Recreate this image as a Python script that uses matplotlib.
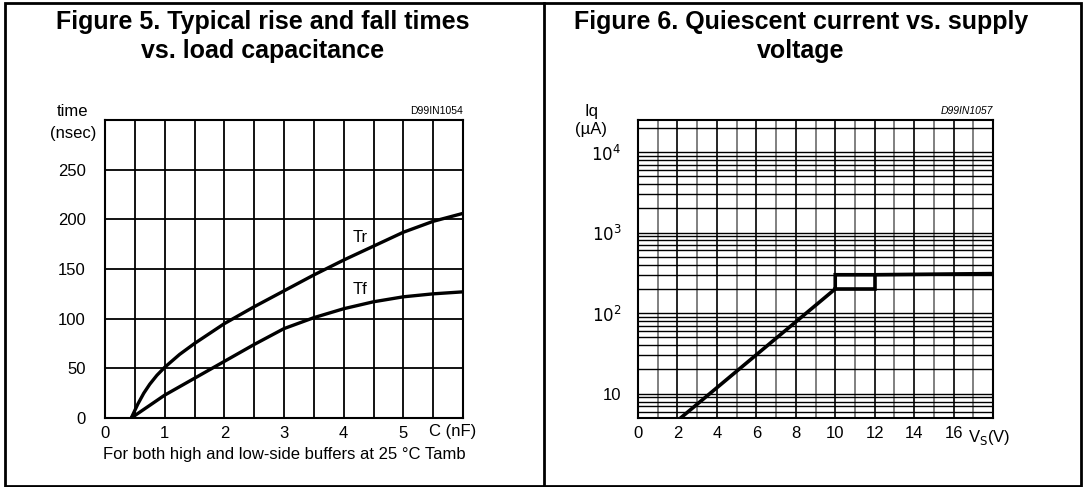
import numpy as np
import matplotlib
matplotlib.use('Agg')
import matplotlib.pyplot as plt
from matplotlib.ticker import FixedLocator, NullFormatter

plt.rcParams['font.family'] = ['Liberation Sans', 'DejaVu Sans']

# ── Data: Figure 5 (rise / fall time vs load capacitance) ─────────────────────
cap_nf  = [0.44, 0.55, 0.65, 0.75, 0.87, 1.0, 1.25, 1.5, 2.0, 2.5, 3.0, 3.5,
           4.0, 4.5, 5.0, 5.5, 6.0]
tr_ns   = [0, 14, 25, 34, 43, 51, 64, 75, 95, 112, 128, 144, 159, 173, 187,
           198, 206]
tf_cap  = [0.44, 1.0, 1.5, 2.0, 2.5, 3.0, 3.5, 4.0, 4.5, 5.0, 5.5, 6.0]
tf_ns   = [0, 23, 40, 57, 74, 90, 101, 110, 117, 122, 125, 127]

# ── Data: Figure 6 (quiescent current vs supply voltage) ──────────────────────
vs_main = [2.16, 10.0, 10.0, 12.0, 18.0]
iq_main = [5, 200, 300, 300, 310]
vs_box  = [10.0, 12.0, 12.0]
iq_box  = [200, 200, 300]

BLACK = '#000000'
GRAY  = '#808080'

fig = plt.figure(figsize=(10.83, 4.87), dpi=100)

# outer frame and divider
fig.add_artist(plt.Rectangle((5 / 1083, 1 - 486 / 487), 1076 / 1083, 483 / 487,
                             transform=fig.transFigure, fill=False, lw=2, ec=BLACK))
fig.add_artist(plt.Line2D([544 / 1083, 544 / 1083], [1 - 486 / 487, 1 - 3 / 487],
                          transform=fig.transFigure, lw=2, color=BLACK))

# titles
fig.text(263 / 1083, 1 - 29 / 487, 'Figure 5. Typical rise and fall times',
         ha='center', va='baseline', fontsize=18, fontweight='bold')
fig.text(263 / 1083, 1 - 58 / 487, 'vs. load capacitance',
         ha='center', va='baseline', fontsize=18, fontweight='bold')
fig.text(801 / 1083, 1 - 29 / 487, 'Figure 6. Quiescent current vs. supply',
         ha='center', va='baseline', fontsize=18, fontweight='bold')
fig.text(801 / 1083, 1 - 58 / 487, 'voltage',
         ha='center', va='baseline', fontsize=18, fontweight='bold')

# ── Figure 5 ──────────────────────────────────────────────────────────────────
ax = fig.add_axes([105 / 1083, 1 - 418 / 487, 358 / 1083, 298 / 487])
ax.set_xlim(0, 6)
ax.set_ylim(0, 300)
ax.set_xticks([0, 1, 2, 3, 4, 5])
ax.set_xticks(np.arange(0.5, 6, 1.0), minor=True)
ax.set_yticks([0, 50, 100, 150, 200, 250])
ax.grid(True, which='both', axis='x', color=BLACK, lw=1.3)
ax.grid(True, which='major', axis='y', color=BLACK, lw=1.3)
ax.tick_params(which='both', length=0, labelsize=12)
ax.tick_params(axis='x', pad=6)
ax.tick_params(axis='y', pad=14)
for s in ax.spines.values():
    s.set_linewidth(1.5)
ax.plot(cap_nf, tr_ns, color=BLACK, lw=2.4, solid_capstyle='round')
ax.plot(tf_cap, tf_ns, color=BLACK, lw=2.4, solid_capstyle='round')
ax.text(4.27, 182, 'Tr', fontsize=12, ha='center', va='center')
ax.text(4.27, 129, 'Tf', fontsize=12, ha='center', va='center')
ax.text(5.83, -6, 'C (nF)', fontsize=12, ha='center', va='top')
ax.text(-0.09, 1.027, 'time', transform=ax.transAxes, fontsize=12,
        ha='center', va='center')
ax.text(-0.09, 0.956, '(nsec)', transform=ax.transAxes, fontsize=12,
        ha='center', va='center')
ax.text(1.0, 1.03, 'D99IN1054', transform=ax.transAxes, fontsize=7.5,
        ha='right', va='center')
ax.text(0.5, -0.121, 'For both high and low-side buffers at 25 °C Tamb',
        transform=ax.transAxes, fontsize=12, ha='center', va='center')

# ── Figure 6 ──────────────────────────────────────────────────────────────────
ax2 = fig.add_axes([638 / 1083, 1 - 418 / 487, 355 / 1083, 298 / 487])
ax2.set_yscale('log')
ax2.set_xlim(0, 18)
ax2.set_ylim(5, 25000)
ax2.set_xticks([0, 2, 4, 6, 8, 10, 12, 14, 16])
ax2.xaxis.set_minor_locator(FixedLocator(range(1, 18)))
ax2.set_yticks([10, 100, 1000, 10000])
ax2.set_yticklabels(['10', '$10^2$', '$10^3$', '$10^4$'])
minor_y = [m * 10 ** k for k in range(0, 5) for m in range(2, 10)]
ax2.yaxis.set_minor_locator(FixedLocator([v for v in minor_y if 5 <= v <= 25000]))
ax2.yaxis.set_minor_formatter(NullFormatter())
ax2.tick_params(which='both', length=0, labelsize=12)
ax2.tick_params(axis='x', pad=6)
ax2.tick_params(axis='y', pad=12)
ax2.grid(True, which='major', axis='x', color=BLACK, lw=1.2)
for v in range(1, 18, 2):
    ax2.axvline(v, color=GRAY, lw=1.4, zorder=1)
ax2.grid(True, which='both', axis='y', color=BLACK, lw=1.0)
for s in ax2.spines.values():
    s.set_linewidth(1.5)
ax2.plot(vs_main, iq_main, color=BLACK, lw=2.6, solid_joinstyle='miter')
ax2.plot(vs_box, iq_box, color=BLACK, lw=2.6, solid_joinstyle='miter')
ax2.text(17.8, 3.8, 'V$_\\mathrm{S}$(V)', fontsize=12, ha='center', va='top')
ax2.text(-0.132, 1.027, 'Iq', transform=ax2.transAxes, fontsize=12,
         ha='center', va='center')
ax2.text(-0.132, 0.968, '(µA)', transform=ax2.transAxes, fontsize=12,
         ha='center', va='center')
ax2.text(1.0, 1.03, 'D99IN1057', transform=ax2.transAxes, fontsize=7.5,
         ha='right', va='center', style='italic')

fig.savefig('out.png', dpi=100)
